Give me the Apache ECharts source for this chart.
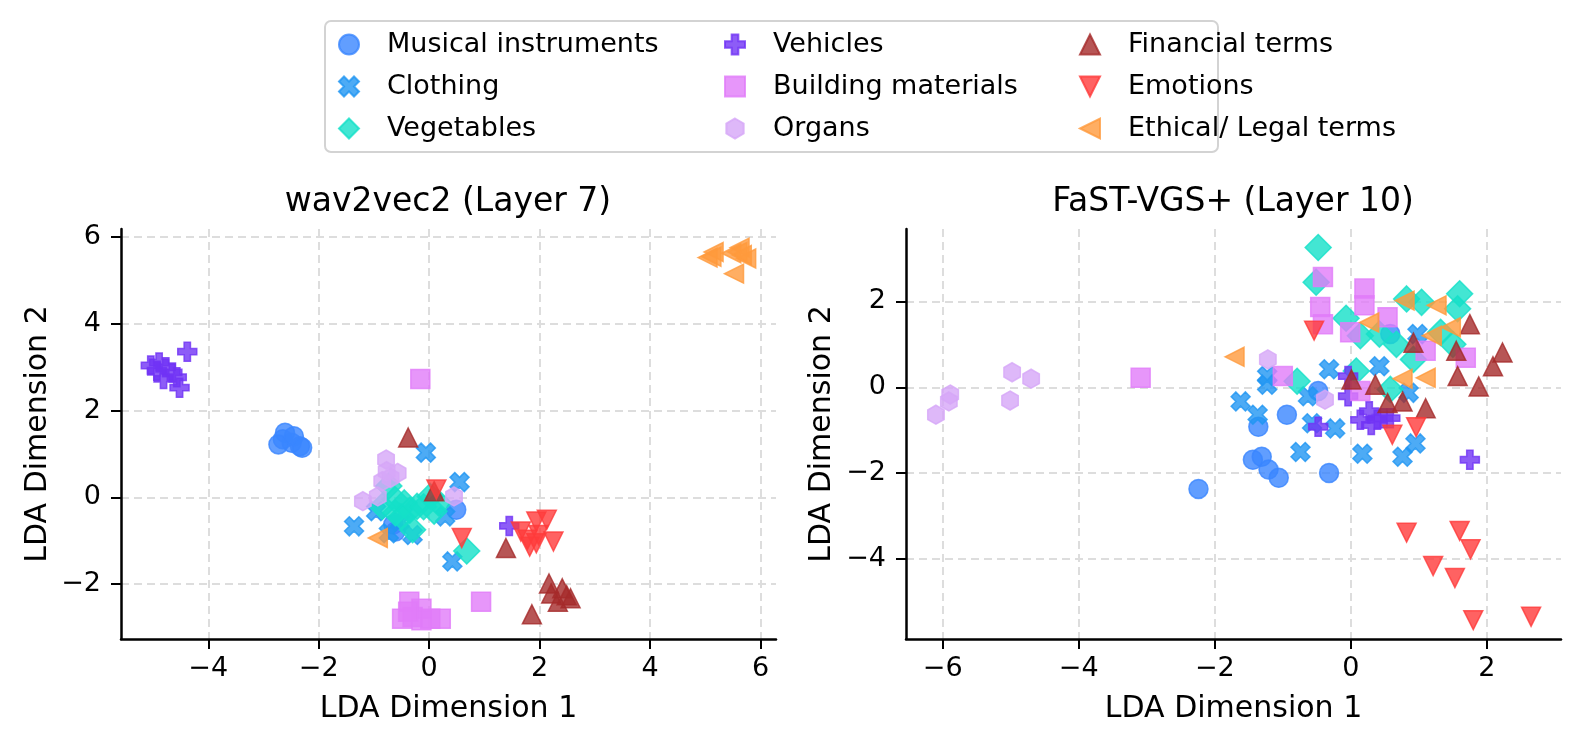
<!DOCTYPE html>
<html>
<head>
<meta charset="utf-8">
<script src="https://cdn.jsdelivr.net/npm/echarts@6/dist/echarts.min.js"></script>
<style>
  html, body { margin: 0; padding: 0; background: #fff; }
  #chart { width: 1580px; height: 745px; }
</style>
</head>
<body>
<div id="chart"></div>
<script>
const FONT = 'DejaVu Sans';

const categories = [
  'Musical instruments', 'Clothing', 'Vegetables',
  'Vehicles', 'Building materials', 'Organs',
  'Financial terms', 'Emotions', 'Ethical/ Legal terms'
];
const colors = ['#3a86ff', '#2196f3', '#14e0c8', '#7033f5', '#e17cf9', '#d6a6f7', '#a52a2a', '#ff3b3b', '#ff9a3c'];

// matplotlib-like markers: o, X, D, P, s, h, ^, v, <
const symbols = [
  'circle',
  'path://M-1,-2L0,-1L1,-2L2,-1L1,0L2,1L1,2L0,1L-1,2L-2,1L-1,0L-2,-1Z',
  'path://M0,-1L1,0L0,1L-1,0Z',
  'path://M-1,-3L1,-3L1,-1L3,-1L3,1L1,1L1,3L-1,3L-1,1L-3,1L-3,-1L-1,-1Z',
  'path://M0,0L1,0L1,1L0,1Z',
  'path://M0,-1L0.866,-0.5L0.866,0.5L0,1L-0.866,0.5L-0.866,-0.5Z',
  'path://M0,-1L1,1L-1,1Z',
  'path://M-1,-1L1,-1L0,1Z',
  'path://M-1,0L1,-1L1,1Z'
];
const symbolSizes = [19, 19, 26, 19, 19, [16.5, 19], 19, 19, 19];

// wav2vec2 (Layer 7)
const w2vMusical = [[-2.65, 1.34], [-2.61, 1.49], [-2.49, 1.26], [-2.34, 1.18], [-2.73, 1.22], [-2.45, 1.41], [-2.3, 1.14], [0.49, -0.29], [-0.65, -0.63], [-0.61, -0.79]];
const w2vClothing = [[-0.06, 1.03], [0.55, 0.35], [-1.36, -0.67], [0.42, -1.48], [-0.96, -0.32], [0.29, -0.44], [-0.3, -0.87], [-0.73, -0.83], [-0.53, -0.56], [-0.45, -0.36]];
const w2vVegetables = [[-0.73, 0.26], [-0.45, -0.13], [-0.22, -0.21], [0.02, 0.02], [0.17, -0.13], [0.09, -0.32], [-0.61, -0.36], [-0.3, -0.75], [0.68, -1.24], [-0.85, -0.21], [-0.35, -0.3], [-0.1, -0.22], [-0.5, -0.45], [-0.62, -0.05]];
const w2vVehicles = [[-4.38, 3.36], [-5.04, 3.04], [-4.89, 3.11], [-4.77, 3.0], [-4.81, 2.73], [-4.65, 2.88], [-4.57, 2.77], [-4.52, 2.53], [-4.93, 2.92], [1.45, -0.66]];
const w2vBuilding = [[-0.16, 2.73], [0.94, -2.41], [-0.36, -2.41], [-0.49, -2.8], [-0.14, -2.57], [-0.14, -2.84], [0.21, -2.8], [-0.3, -2.76], [0.02, -2.8], [-0.38, -2.64]];
const w2vOrgans = [[-0.78, 0.87], [-0.57, 0.56], [-0.85, 0.37], [-1.2, -0.09], [0.45, 0.02], [-0.77, 0.6], [-0.93, 0.02], [-0.7, 0.45]];
const w2vFinancial = [[-0.38, 1.38], [1.39, -1.17], [1.86, -2.7], [2.17, -1.99], [2.41, -2.1], [2.21, -2.22], [2.56, -2.33], [2.33, -2.41], [2.49, -2.26], [0.09, 0.14]];
const w2vEmotions = [[0.13, 0.18], [0.59, -0.94], [1.94, -0.56], [2.13, -0.52], [1.66, -0.79], [1.82, -1.14], [1.94, -1.06], [2.25, -1.02], [1.98, -0.87], [1.78, -0.98]];
const w2vEthical = [[5.04, 5.53], [5.15, 5.66], [5.47, 5.63], [5.62, 5.76], [5.74, 5.51], [5.52, 5.16], [-0.93, -0.94], [5.11, 5.55], [5.58, 5.66], [5.66, 5.59]];

// FaST-VGS+ (Layer 10)
const fastMusical = [[-2.24, -2.37], [-1.36, -0.92], [-0.94, -0.64], [-1.44, -1.69], [-1.31, -1.62], [-1.21, -1.92], [-1.06, -2.11], [-0.32, -2.0], [-0.48, -0.09], [0.58, 1.24]];
const fastClothing = [[-1.62, -0.33], [-1.37, -0.64], [-1.23, 0.26], [-1.23, 0.06], [-0.32, 0.42], [0.42, 0.49], [-0.63, -0.21], [-0.74, -1.51], [-0.57, -0.84], [-0.23, -0.96], [0.17, -1.55], [0.76, -1.62], [0.95, -1.31], [0.85, -0.13], [0.98, 1.24]];
const fastVegetables = [[-0.48, 3.26], [-0.51, 2.45], [-0.07, 1.61], [0.14, 1.2], [0.42, 1.24], [0.82, 2.06], [1.04, 1.98], [1.6, 2.18], [1.57, 1.83], [1.32, 1.28], [1.5, 1.0], [0.92, 0.65], [0.67, 1.0], [0.08, 0.38], [-0.79, 0.14], [0.58, -0.05]];
const fastVehicles = [[-0.48, -0.92], [-0.04, 0.26], [-0.04, -0.21], [0.14, -0.76], [0.27, -0.56], [0.3, -0.88], [0.48, -0.72], [0.58, -0.72], [1.75, -1.69], [0.39, -0.76]];
const fastBuilding = [[-3.09, 0.22], [-0.41, 2.57], [-0.45, 1.87], [-0.41, 1.47], [0.2, 2.3], [0.2, 1.91], [0.54, 1.63], [-0.01, 1.28], [-1.0, 0.26], [1.1, 0.85], [1.69, 0.69], [0.14, -0.09]];
const fastOrgans = [[-6.1, -0.64], [-5.89, -0.17], [-5.91, -0.33], [-4.98, 0.35], [-5.01, -0.31], [-4.7, 0.2], [-1.22, 0.65], [-0.38, -0.29]];
const fastFinancial = [[0.01, 0.18], [0.36, 0.06], [0.54, -0.37], [0.76, -0.33], [0.92, 1.04], [1.1, -0.49], [1.57, 0.26], [1.55, 0.85], [1.75, 1.47], [2.09, 0.49], [2.23, 0.81], [1.88, 0.02]];
const fastEmotions = [[-0.54, 1.32], [0.61, -1.11], [0.96, -0.93], [0.82, -3.39], [1.6, -3.35], [1.76, -3.78], [1.21, -4.17], [1.53, -4.45], [1.8, -5.43], [2.65, -5.35]];
const fastEthical = [[-1.71, 0.71], [0.27, 1.51], [0.79, 2.02], [1.26, 1.91], [1.47, 1.4], [1.19, 1.2], [0.76, 0.2], [1.1, 0.22]];

const w2vData = [w2vMusical, w2vClothing, w2vVegetables, w2vVehicles, w2vBuilding, w2vOrgans, w2vFinancial, w2vEmotions, w2vEthical];
const fastData = [fastMusical, fastClothing, fastVegetables, fastVehicles, fastBuilding, fastOrgans, fastFinancial, fastEmotions, fastEthical];

// axis ranges and tick labels
const w2vRangeX = [-5.58, 6.28];
const w2vRangeY = [-3.27, 6.19];
const fastRangeX = [-6.54, 3.09];
const fastRangeY = [-5.87, 3.69];
const w2vTicksX = [-4, -2, 0, 2, 4, 6];
const w2vTicksY = [-2, 0, 2, 4, 6];
const fastTicksX = [-6, -4, -2, 0, 2];
const fastTicksY = [-4, -2, 0, 2];

const chart = echarts.init(document.getElementById('chart'));

function makeAxis(gridIndex, range, ticks, name, isX, gap) {
    return {
        type: 'value',
        gridIndex: gridIndex,
        min: range[0],
        max: range[1],
        name: name,
        nameLocation: 'middle',
        nameGap: gap,
        nameTextStyle: { fontFamily: FONT, fontSize: 30, color: '#000' },
        axisLine: { show: true, onZero: false, lineStyle: { color: '#000', width: 2.5 } },
        axisTick: { show: true, length: 10, lineStyle: { color: '#000', width: 2 }, customValues: ticks },
        axisLabel: {
            customValues: ticks,
            fontFamily: FONT,
            fontSize: 27,
            color: '#000',
            margin: isX ? 16 : 20,
            formatter: v => String(v).replace('-', '\u2212')
        },
        splitLine: { show: true, lineStyle: { color: '#dddddd', width: 2, type: [8, 5] } }
    };
}

const series = [];
[w2vData, fastData].forEach((panel, p) => {
    panel.forEach((pts, i) => {
        series.push({
            name: categories[i],
            type: 'scatter',
            xAxisIndex: p,
            yAxisIndex: p,
            data: pts,
            symbol: symbols[i],
            symbolSize: symbolSizes[i],
            itemStyle: { color: colors[i], opacity: 0.8, borderColor: colors[i], borderWidth: 1.5 },
            emphasis: { disabled: true }
        });
    });
});

function legendColumn(names, left) {
    return {
        data: names,
        orient: 'vertical',
        left: left,
        top: 29.5,
        padding: 0,
        itemWidth: 66,
        itemHeight: 20,
        itemGap: 12,
        selectedMode: false,
        textStyle: { fontFamily: FONT, fontSize: 27, color: '#000', lineHeight: 30 }
    };
}

const option = {
    animation: false,
    backgroundColor: '#fff',
    title: [
        { text: 'wav2vec2 (Layer 7)', left: 448, top: 186, textAlign: 'center', padding: 0,
          textStyle: { fontFamily: FONT, fontSize: 33, fontWeight: 'normal', color: '#000' } },
        { text: 'FaST-VGS+ (Layer 10)', left: 1233, top: 186, textAlign: 'center', padding: 0,
          textStyle: { fontFamily: FONT, fontSize: 33, fontWeight: 'normal', color: '#000' } }
    ],
    legend: [
        legendColumn(categories.slice(0, 3), 338),
        legendColumn(categories.slice(3, 6), 724),
        legendColumn(categories.slice(6, 9), 1079)
    ],
    graphic: [{
        type: 'rect',
        left: 324,
        top: 20,
        shape: { width: 893, height: 131, r: 6 },
        style: { fill: '#fff', stroke: '#d3d3d3', lineWidth: 2 },
        z: 0
    }],
    grid: [
        { left: 121, top: 229, width: 655, height: 410 },
        { left: 906, top: 229, width: 655, height: 410 }
    ],
    xAxis: [
        makeAxis(0, w2vRangeX, w2vTicksX, 'LDA Dimension 1', true, 55),
        makeAxis(1, fastRangeX, fastTicksX, 'LDA Dimension 1', true, 55)
    ],
    yAxis: [
        makeAxis(0, w2vRangeY, w2vTicksY, 'LDA Dimension 2', false, 68),
        makeAxis(1, fastRangeY, fastTicksY, 'LDA Dimension 2', false, 69)
    ],
    series: series
};

chart.setOption(option);
</script>
</body>
</html>
